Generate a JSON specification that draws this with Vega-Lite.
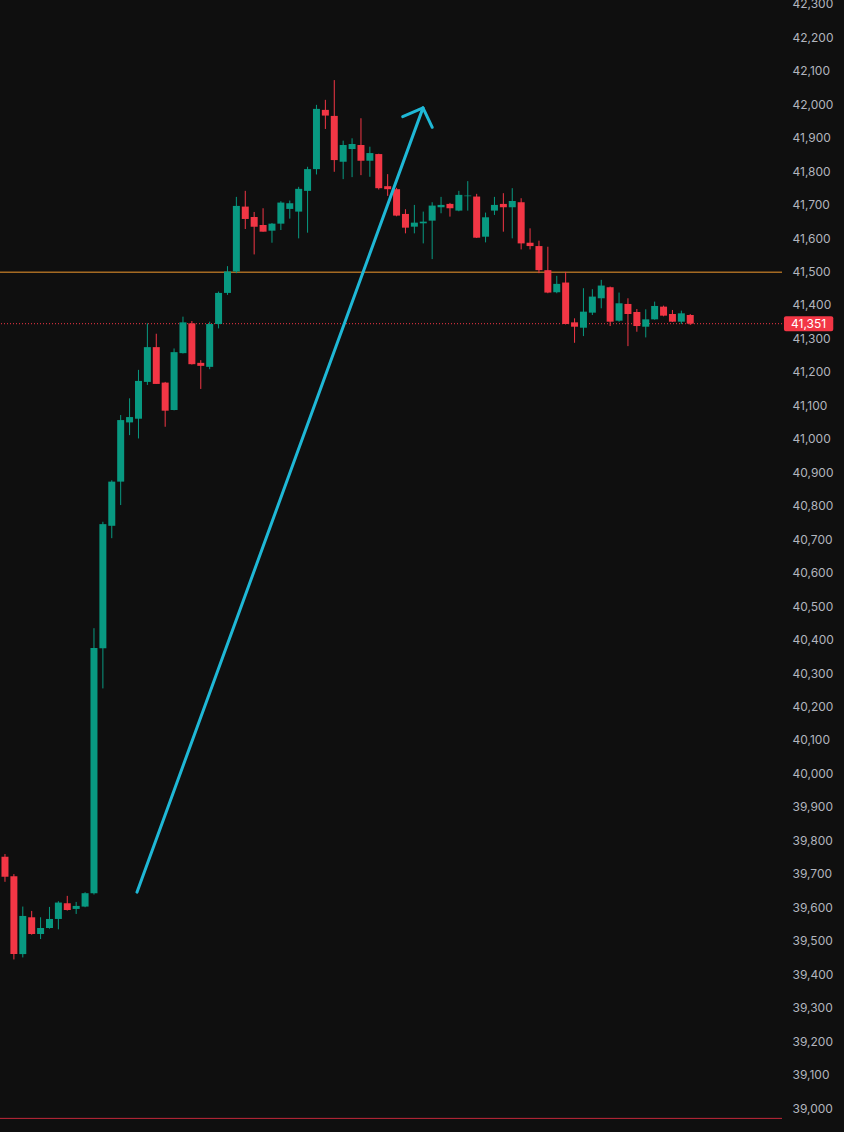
{
  "$schema": "https://vega.github.io/schema/vega-lite/v6.json",
  "width": 782,
  "height": 1132,
  "autosize": {"type": "none"},
  "padding": {"left": 0, "top": 0, "right": 62, "bottom": 0},
  "background": "#0f0f0f",
  "config": {"view": {"stroke": null}, "axis": {"grid": false}, "scale": {"continuousPadding": 0}},
  "resolve": {"axis": {"y": "independent", "x": "independent"}},
  "datasets": {
    "candles": [
      {"i":0,"o":39751,"h":39759,"l":39676,"c":39691},
      {"i":1,"o":39693,"h":39699,"l":39444,"c":39460},
      {"i":2,"o":39460,"h":39602,"l":39450,"c":39574},
      {"i":3,"o":39570,"h":39589,"l":39518,"c":39520},
      {"i":4,"o":39520,"h":39570,"l":39505,"c":39538},
      {"i":5,"o":39538,"h":39601,"l":39536,"c":39565},
      {"i":6,"o":39565,"h":39618,"l":39534,"c":39614},
      {"i":7,"o":39612,"h":39634,"l":39590,"c":39592},
      {"i":8,"o":39595,"h":39616,"l":39580,"c":39604},
      {"i":9,"o":39602,"h":39645,"l":39600,"c":39642},
      {"i":10,"o":39642,"h":40434,"l":39638,"c":40375},
      {"i":11,"o":40374,"h":40752,"l":40254,"c":40745},
      {"i":12,"o":40740,"h":40876,"l":40703,"c":40872},
      {"i":13,"o":40872,"h":41071,"l":40802,"c":41056},
      {"i":14,"o":41049,"h":41121,"l":41011,"c":41065},
      {"i":15,"o":41060,"h":41206,"l":41001,"c":41173},
      {"i":16,"o":41170,"h":41345,"l":41161,"c":41274},
      {"i":17,"o":41274,"h":41314,"l":41164,"c":41164},
      {"i":18,"o":41168,"h":41170,"l":41036,"c":41084},
      {"i":19,"o":41086,"h":41270,"l":41085,"c":41259},
      {"i":20,"o":41256,"h":41365,"l":41255,"c":41348},
      {"i":21,"o":41345,"h":41352,"l":41222,"c":41223},
      {"i":22,"o":41227,"h":41235,"l":41149,"c":41218},
      {"i":23,"o":41215,"h":41350,"l":41208,"c":41343},
      {"i":24,"o":41343,"h":41440,"l":41330,"c":41436},
      {"i":25,"o":41436,"h":41516,"l":41430,"c":41500},
      {"i":26,"o":41500,"h":41723,"l":41495,"c":41696},
      {"i":27,"o":41694,"h":41741,"l":41627,"c":41657},
      {"i":28,"o":41663,"h":41678,"l":41551,"c":41634},
      {"i":29,"o":41639,"h":41689,"l":41619,"c":41619},
      {"i":30,"o":41622,"h":41645,"l":41586,"c":41643},
      {"i":31,"o":41643,"h":41710,"l":41624,"c":41706},
      {"i":32,"o":41687,"h":41712,"l":41658,"c":41704},
      {"i":33,"o":41679,"h":41753,"l":41599,"c":41747},
      {"i":34,"o":41741,"h":41813,"l":41616,"c":41806},
      {"i":35,"o":41806,"h":41998,"l":41790,"c":41986},
      {"i":36,"o":41983,"h":42013,"l":41926,"c":41966},
      {"i":37,"o":41965,"h":42072,"l":41798,"c":41833},
      {"i":38,"o":41828,"h":41891,"l":41776,"c":41878},
      {"i":39,"o":41866,"h":41898,"l":41782,"c":41881},
      {"i":40,"o":41878,"h":41958,"l":41788,"c":41831},
      {"i":41,"o":41831,"h":41873,"l":41783,"c":41854},
      {"i":42,"o":41851,"h":41852,"l":41745,"c":41749},
      {"i":43,"o":41755,"h":41791,"l":41726,"c":41746},
      {"i":44,"o":41746,"h":41750,"l":41665,"c":41667},
      {"i":45,"o":41672,"h":41686,"l":41614,"c":41631},
      {"i":46,"o":41634,"h":41699,"l":41614,"c":41646},
      {"i":47,"o":41644,"h":41679,"l":41584,"c":41649},
      {"i":48,"o":41652,"h":41707,"l":41537,"c":41697},
      {"i":49,"o":41692,"h":41723,"l":41674,"c":41699},
      {"i":50,"o":41702,"h":41705,"l":41664,"c":41689},
      {"i":51,"o":41682,"h":41741,"l":41680,"c":41729},
      {"i":52,"o":41725,"h":41770,"l":41682,"c":41727},
      {"i":53,"o":41724,"h":41732,"l":41600,"c":41601},
      {"i":54,"o":41604,"h":41676,"l":41587,"c":41662},
      {"i":55,"o":41682,"h":41723,"l":41669,"c":41699},
      {"i":56,"o":41702,"h":41734,"l":41619,"c":41692},
      {"i":57,"o":41692,"h":41749,"l":41599,"c":41711},
      {"i":58,"o":41707,"h":41719,"l":41566,"c":41584},
      {"i":59,"o":41586,"h":41629,"l":41566,"c":41576},
      {"i":60,"o":41576,"h":41592,"l":41495,"c":41504},
      {"i":61,"o":41504,"h":41574,"l":41435,"c":41437},
      {"i":62,"o":41438,"h":41487,"l":41435,"c":41463},
      {"i":63,"o":41467,"h":41499,"l":41342,"c":41343},
      {"i":64,"o":41348,"h":41360,"l":41287,"c":41335},
      {"i":65,"o":41332,"h":41450,"l":41307,"c":41380},
      {"i":66,"o":41377,"h":41447,"l":41370,"c":41425},
      {"i":67,"o":41420,"h":41475,"l":41390,"c":41458},
      {"i":68,"o":41453,"h":41455,"l":41337,"c":41350},
      {"i":69,"o":41353,"h":41437,"l":41350,"c":41405},
      {"i":70,"o":41403,"h":41420,"l":41277,"c":41373},
      {"i":71,"o":41379,"h":41388,"l":41320,"c":41337},
      {"i":72,"o":41335,"h":41387,"l":41303,"c":41357},
      {"i":73,"o":41357,"h":41410,"l":41356,"c":41397},
      {"i":74,"o":41395,"h":41398,"l":41366,"c":41368},
      {"i":75,"o":41373,"h":41385,"l":41349,"c":41350},
      {"i":76,"o":41350,"h":41383,"l":41343,"c":41375},
      {"i":77,"o":41370,"h":41373,"l":41340,"c":41344}
    ],
    "arrow": [
      {"seg":"shaft","ord":0,"ax":14.83,"ay":39645},
      {"seg":"shaft","ord":1,"ax":46.97,"ay":41989},
      {"seg":"head","ord":0,"ax":44.69,"ay":41963},
      {"seg":"head","ord":1,"ax":46.97,"ay":41989},
      {"seg":"head","ord":2,"ax":48.01,"ay":41931}
    ],
    "levels": [
      {"name":"orange","price":41498},
      {"name":"bottom","price":38969}
    ],
    "last": [
      {"price":41344,"label":"41,351","x1":87.53,"x2":93.07,"xc":90.3,"top":41366.5,"bot":41321.7}
    ]
  },
  "layer": [
    {
      "data": {"name": "candles"},
      "mark": {"type": "rule", "opacity": 0},
      "encoding": {
        "x": {"field": "i", "type": "quantitative", "scale": {"domain": [-0.56, 87.31], "nice": false, "zero": false, "padding": 0}, "axis": null},
        "y": {
          "field": "c", "type": "quantitative",
          "scale": {"domain": [38928.3, 42311.4], "nice": false, "zero": false, "padding": 0},
          "axis": {
            "orient": "right",
            "values": [39000,39100,39200,39300,39400,39500,39600,39700,39800,39900,40000,40100,40200,40300,40400,40500,40600,40700,40800,40900,41000,41100,41200,41300,41400,41500,41600,41700,41800,41900,42000,42100,42200,42300],
            "labelExpr": "format(datum.value, ',.0f')",
            "labelColor": "#b2b5be",
            "labelFont": "Inter",
            "labelFontSize": 12,
            "labelPadding": 10,
            "labelAlign": "left",
            "labelBaseline": "middle",
            "labelFlush": false,
            "labelOverlap": false,
            "ticks": false,
            "domain": false,
            "grid": false,
            "title": null
          }
        }
      }
    },
    {
      "data": {"name": "levels"},
      "transform": [{"filter": "datum.name === 'orange'"}],
      "mark": {"type": "rule", "stroke": "#f29a2e", "strokeWidth": 1, "opacity": 1},
      "encoding": {"y": {"field": "price", "type": "quantitative", "axis": null}}
    },
    {
      "data": {"name": "levels"},
      "transform": [{"filter": "datum.name === 'bottom'"}],
      "mark": {"type": "rule", "stroke": "#c2283b", "strokeWidth": 1, "opacity": 1},
      "encoding": {"y": {"field": "price", "type": "quantitative", "axis": null}}
    },
    {
      "data": {"name": "last"},
      "mark": {"type": "rule", "stroke": "#f23645", "strokeWidth": 1, "strokeDash": [1, 2], "opacity": 1},
      "encoding": {"y": {"field": "price", "type": "quantitative", "axis": null}}
    },
    {
      "data": {"name": "candles"},
      "mark": {"type": "rule", "strokeWidth": 1},
      "encoding": {
        "x": {"field": "i", "type": "quantitative", "axis": null},
        "y": {"field": "l", "type": "quantitative", "axis": null},
        "y2": {"field": "h"},
        "color": {"condition": {"test": "datum.c >= datum.o", "value": "#089981"}, "value": "#f23645"}
      }
    },
    {
      "data": {"name": "candles"},
      "mark": {"type": "bar", "size": 7, "minBandSize": 1},
      "encoding": {
        "x": {"field": "i", "type": "quantitative", "axis": null},
        "y": {"field": "o", "type": "quantitative", "axis": null},
        "y2": {"field": "c"},
        "color": {"condition": {"test": "datum.c >= datum.o", "value": "#089981"}, "value": "#f23645"}
      }
    },
    {
      "data": {"name": "arrow"},
      "mark": {"type": "line", "stroke": "#1fb8d6", "strokeWidth": 3, "strokeCap": "round", "strokeJoin": "round"},
      "encoding": {
        "x": {"field": "ax", "type": "quantitative", "axis": null},
        "y": {"field": "ay", "type": "quantitative", "axis": null},
        "detail": {"field": "seg"},
        "order": {"field": "ord", "type": "quantitative"}
      }
    },
    {
      "data": {"name": "last"},
      "mark": {"type": "rect", "fill": "#f23645", "cornerRadius": 2},
      "encoding": {
        "x": {"field": "x1", "type": "quantitative", "axis": null},
        "x2": {"field": "x2"},
        "y": {"field": "top", "type": "quantitative", "axis": null},
        "y2": {"field": "bot"}
      }
    },
    {
      "data": {"name": "last"},
      "mark": {"type": "text", "fill": "#ffffff", "font": "Inter", "fontSize": 12, "align": "center", "baseline": "middle"},
      "encoding": {
        "x": {"field": "xc", "type": "quantitative", "axis": null},
        "y": {"field": "price", "type": "quantitative", "axis": null},
        "text": {"field": "label"}
      }
    }
  ]
}
